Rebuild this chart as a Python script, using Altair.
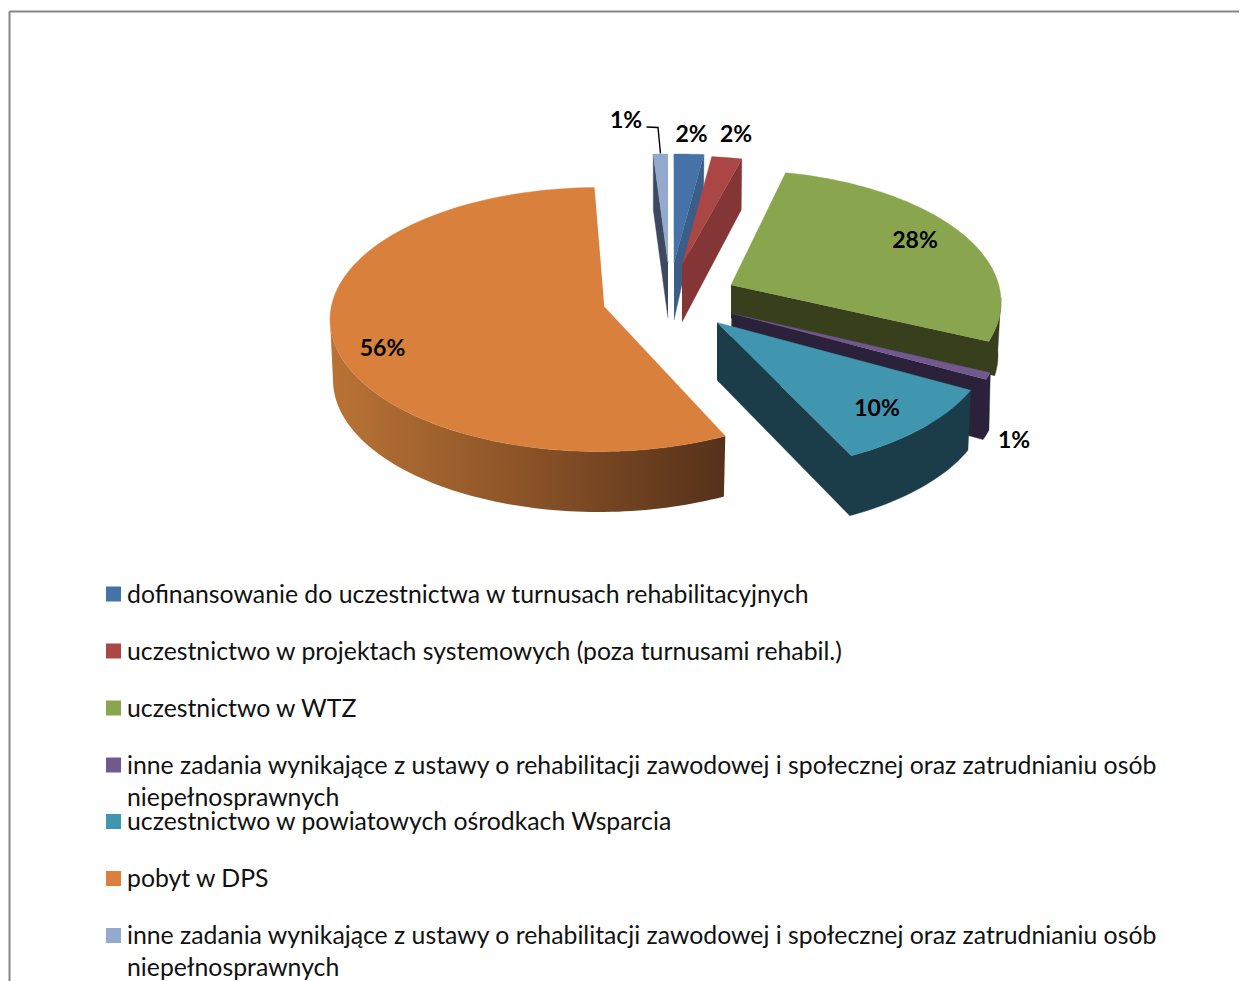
import math
import altair as alt
import pandas as pd

# ---- chart values ----
CATEGORIES = [
    "dofinansowanie do uczestnictwa w turnusach rehabilitacyjnych",
    "uczestnictwo w projektach systemowych (poza turnusami rehabil.)",
    "uczestnictwo w WTZ",
    "inne zadania wynikające z ustawy o rehabilitacji zawodowej i społecznej oraz zatrudnianiu osób\nniepełnosprawnych",
    "uczestnictwo w powiatowych ośrodkach Wsparcia",
    "pobyt w DPS",
    "inne zadania wynikające z ustawy o rehabilitacji zawodowej i społecznej oraz zatrudnianiu osób\nniepełnosprawnych",
]
SHARES = [2, 2, 28, 1, 10, 56, 1]
TOP_COLORS = ["#4572A7", "#AA4643", "#89A54E", "#71588F", "#4095AF", "#D8803C", "#93A9D0"]
SIDE_COLORS = ["#3A5E88", "#843636", "#373F1C", "#2C213A", "#1B3C49", None, "#3C495F"]
ORANGE_SIDE_STOPS = [("#BA7335", 0.0), ("#8F5629", 0.45), ("#55311A", 1.0)]

# ---- picture geometry: the page is used as the coordinate system ----
PAGE_X = [9, 1239]
PAGE_Y = [11, 981]
RX, RY, RX_LOW, RY_LOW = 269, 132, 266, 132
#            blue    red    green  purple teal   orange light
START_ANGLE = [-91.3, -84.5, -78.5, 16.2, 22.4, 62.0, -92.3]
PERSPECTIVE = [0.89, 0.90, 0.951, 0.86, 1.08, 1.027, 0.875]
CENTER_X = [680, 686, 732, 732, 722, 599, 664]
CENTER_Y = [286, 288, 302, 336, 340, 319.5, 286]
LOW_CENTER_X = [680, 686, 732, 732, 722, 599, 664]
LOW_CENTER_Y = [319, 339, 355, 396, 400, 380, 342]
APEX = [(674, 263), (682, 265), (731, 285), (731.5, 313.5), (717, 322.5), (604.3, 306.7), (668, 263)]
APEX_LOW = [(674, 320), (682, 322), (731, 318), (731, 372), (717, 380), None, (668, 318)]
# side wall: angle span along the top rim, then along the bottom rim
SIDE_TOP = [(None, "end"), (None, "end"), ("end", -2), ("end", "start"), ("end", "start"), (62, 180), ("start", None)]
SIDE_LOW = [("end", "end"), ("end", "end"), (-2, 9), (15, "end"), ("start", "end"), (180, 62), ("start", "start")]

LABEL_TEXT = ["1%", "2%", "2%", "28%", "1%", "10%", "56%"]
LABEL_X = [626, 691.5, 736, 915, 1014, 877, 382.5]
LABEL_Y = [121, 135, 135, 241, 441, 409, 349]
LEADER_X = [646.5, 658, 660.5]
LEADER_Y = [127, 127.5, 153.5]
LEGEND_Y = [594, 651, 708, 765, 821.5, 878.5, 935.5]
LEGEND_SWATCH_X = 113.5
LEGEND_TEXT_X = 127

FONT = "Lato"


def scale_x():
    return alt.Scale(domain=PAGE_X, range=[0, PAGE_X[1] - PAGE_X[0]], nice=False, zero=False)


def scale_y():
    return alt.Scale(domain=PAGE_Y, range=[0, PAGE_Y[1] - PAGE_Y[0]], nice=False, zero=False)


AXIS_X = alt.Axis(orient="top", domain=True, domainColor="#868686", domainWidth=2, ticks=False,
                  labels=False, grid=False, title=None)
AXIS_Y = alt.Axis(orient="left", domain=True, domainColor="#868686", domainWidth=2, ticks=False,
                  labels=False, grid=False, title=None)
X = lambda f="x": alt.X(f"{f}:Q", scale=scale_x(), axis=AXIS_X)
Y = lambda f="y": alt.Y(f"{f}:Q", scale=scale_y(), axis=AXIS_Y)


def arc(cx, cy, rx, ry, a, b):
    n = max(2, int(abs(b - a) / 1.5) + 2)
    return [(cx + rx * math.cos(math.radians(a + (b - a) * i / (n - 1))),
             cy + ry * math.sin(math.radians(a + (b - a) * i / (n - 1)))) for i in range(n)]


def polygon(points, fill):
    df = pd.DataFrame(points, columns=["x", "y"])
    df["i"] = range(len(df))
    stroke = fill if isinstance(fill, str) else None
    kwargs = dict(fill=fill, strokeWidth=0.4, interpolate="linear")
    if stroke:
        kwargs["stroke"] = stroke
    else:
        kwargs["strokeWidth"] = 0
    return alt.Chart(df).mark_line(**kwargs).encode(x=X(), y=Y(), order="i:Q")


def resolve(v, start, end):
    return {"start": start, "end": end}.get(v, v)


orange_gradient = alt.Gradient(
    gradient="linear", x1=0, x2=1, y1=0, y2=0,
    stops=[alt.GradientStop(color=c, offset=o) for c, o in ORANGE_SIDE_STOPS],
)

layers = []
for idx in [6, 0, 1, 2, 3, 4, 5]:
    start = START_ANGLE[idx]
    end = start + SHARES[idx] * 3.6 * PERSPECTIVE[idx]
    cx, cy, lx, ly = CENTER_X[idx], CENTER_Y[idx], LOW_CENTER_X[idx], LOW_CENTER_Y[idx]

    a0, a1 = SIDE_TOP[idx]
    a0, a1 = resolve(a0, start, end), resolve(a1, start, end)
    b0, b1 = SIDE_LOW[idx]
    b0, b1 = resolve(b0, start, end), resolve(b1, start, end)
    side = []
    if idx != 5:
        side.append(APEX[idx])
    if a0 is None:
        side += arc(cx, cy, RX, RY, a1, a1)[:1]
    elif a1 is None:
        side += arc(cx, cy, RX, RY, a0, a0)[:1]
    else:
        side += arc(cx, cy, RX, RY, a0, a1)
    side += arc(lx, ly, RX_LOW, RY_LOW, b0, b1)
    if APEX_LOW[idx] is not None:
        side.append(APEX_LOW[idx])
    fill = orange_gradient if idx == 5 else SIDE_COLORS[idx]
    layers.append(polygon(side, fill))

    top = [APEX[idx]] + arc(cx, cy, RX, RY, start, end)
    layers.append(polygon(top, TOP_COLORS[idx]))

labels = pd.DataFrame({"x": LABEL_X, "y": LABEL_Y, "t": LABEL_TEXT})
layers.append(alt.Chart(labels).mark_text(font=FONT, fontSize=23, fontWeight="bold", color="#000000",
                                          align="center", baseline="middle")
              .encode(x=X(), y=Y(), text="t:N"))

leader = pd.DataFrame({"x": LEADER_X, "y": LEADER_Y, "i": range(len(LEADER_X))})
layers.append(alt.Chart(leader).mark_line(color="#000000", strokeWidth=1.4)
              .encode(x=X(), y=Y(), order="i:Q"))

legend = pd.DataFrame({
    "text": CATEGORIES,
    "y": LEGEND_Y,
    "sx": [LEGEND_SWATCH_X] * len(CATEGORIES),
    "tx": [LEGEND_TEXT_X] * len(CATEGORIES),
    "c": TOP_COLORS,
})
layers.append(alt.Chart(legend).mark_square(size=225, opacity=1, strokeWidth=0)
              .encode(x=X("sx"), y=Y(), color=alt.Color("c:N", scale=None)))
layers.append(alt.Chart(legend).mark_text(font=FONT, fontSize=24.8, color="#111111", align="left",
                                          baseline="middle", lineBreak="\n", lineHeight=32, dy=1.5)
              .encode(x=X("tx"), y=Y(), text="text:N"))

chart = alt.layer(*layers).properties(
    width=PAGE_X[1] - PAGE_X[0],
    height=PAGE_Y[1] - PAGE_Y[0],
    padding={"left": 1, "top": 3, "right": 0, "bottom": 0},
    autosize=alt.AutoSizeParams(type="none"),
    background="#FFFFFF",
).configure_view(stroke=None)

chart.save("out.html", embed_options={"renderer": "svg", "actions": False})
